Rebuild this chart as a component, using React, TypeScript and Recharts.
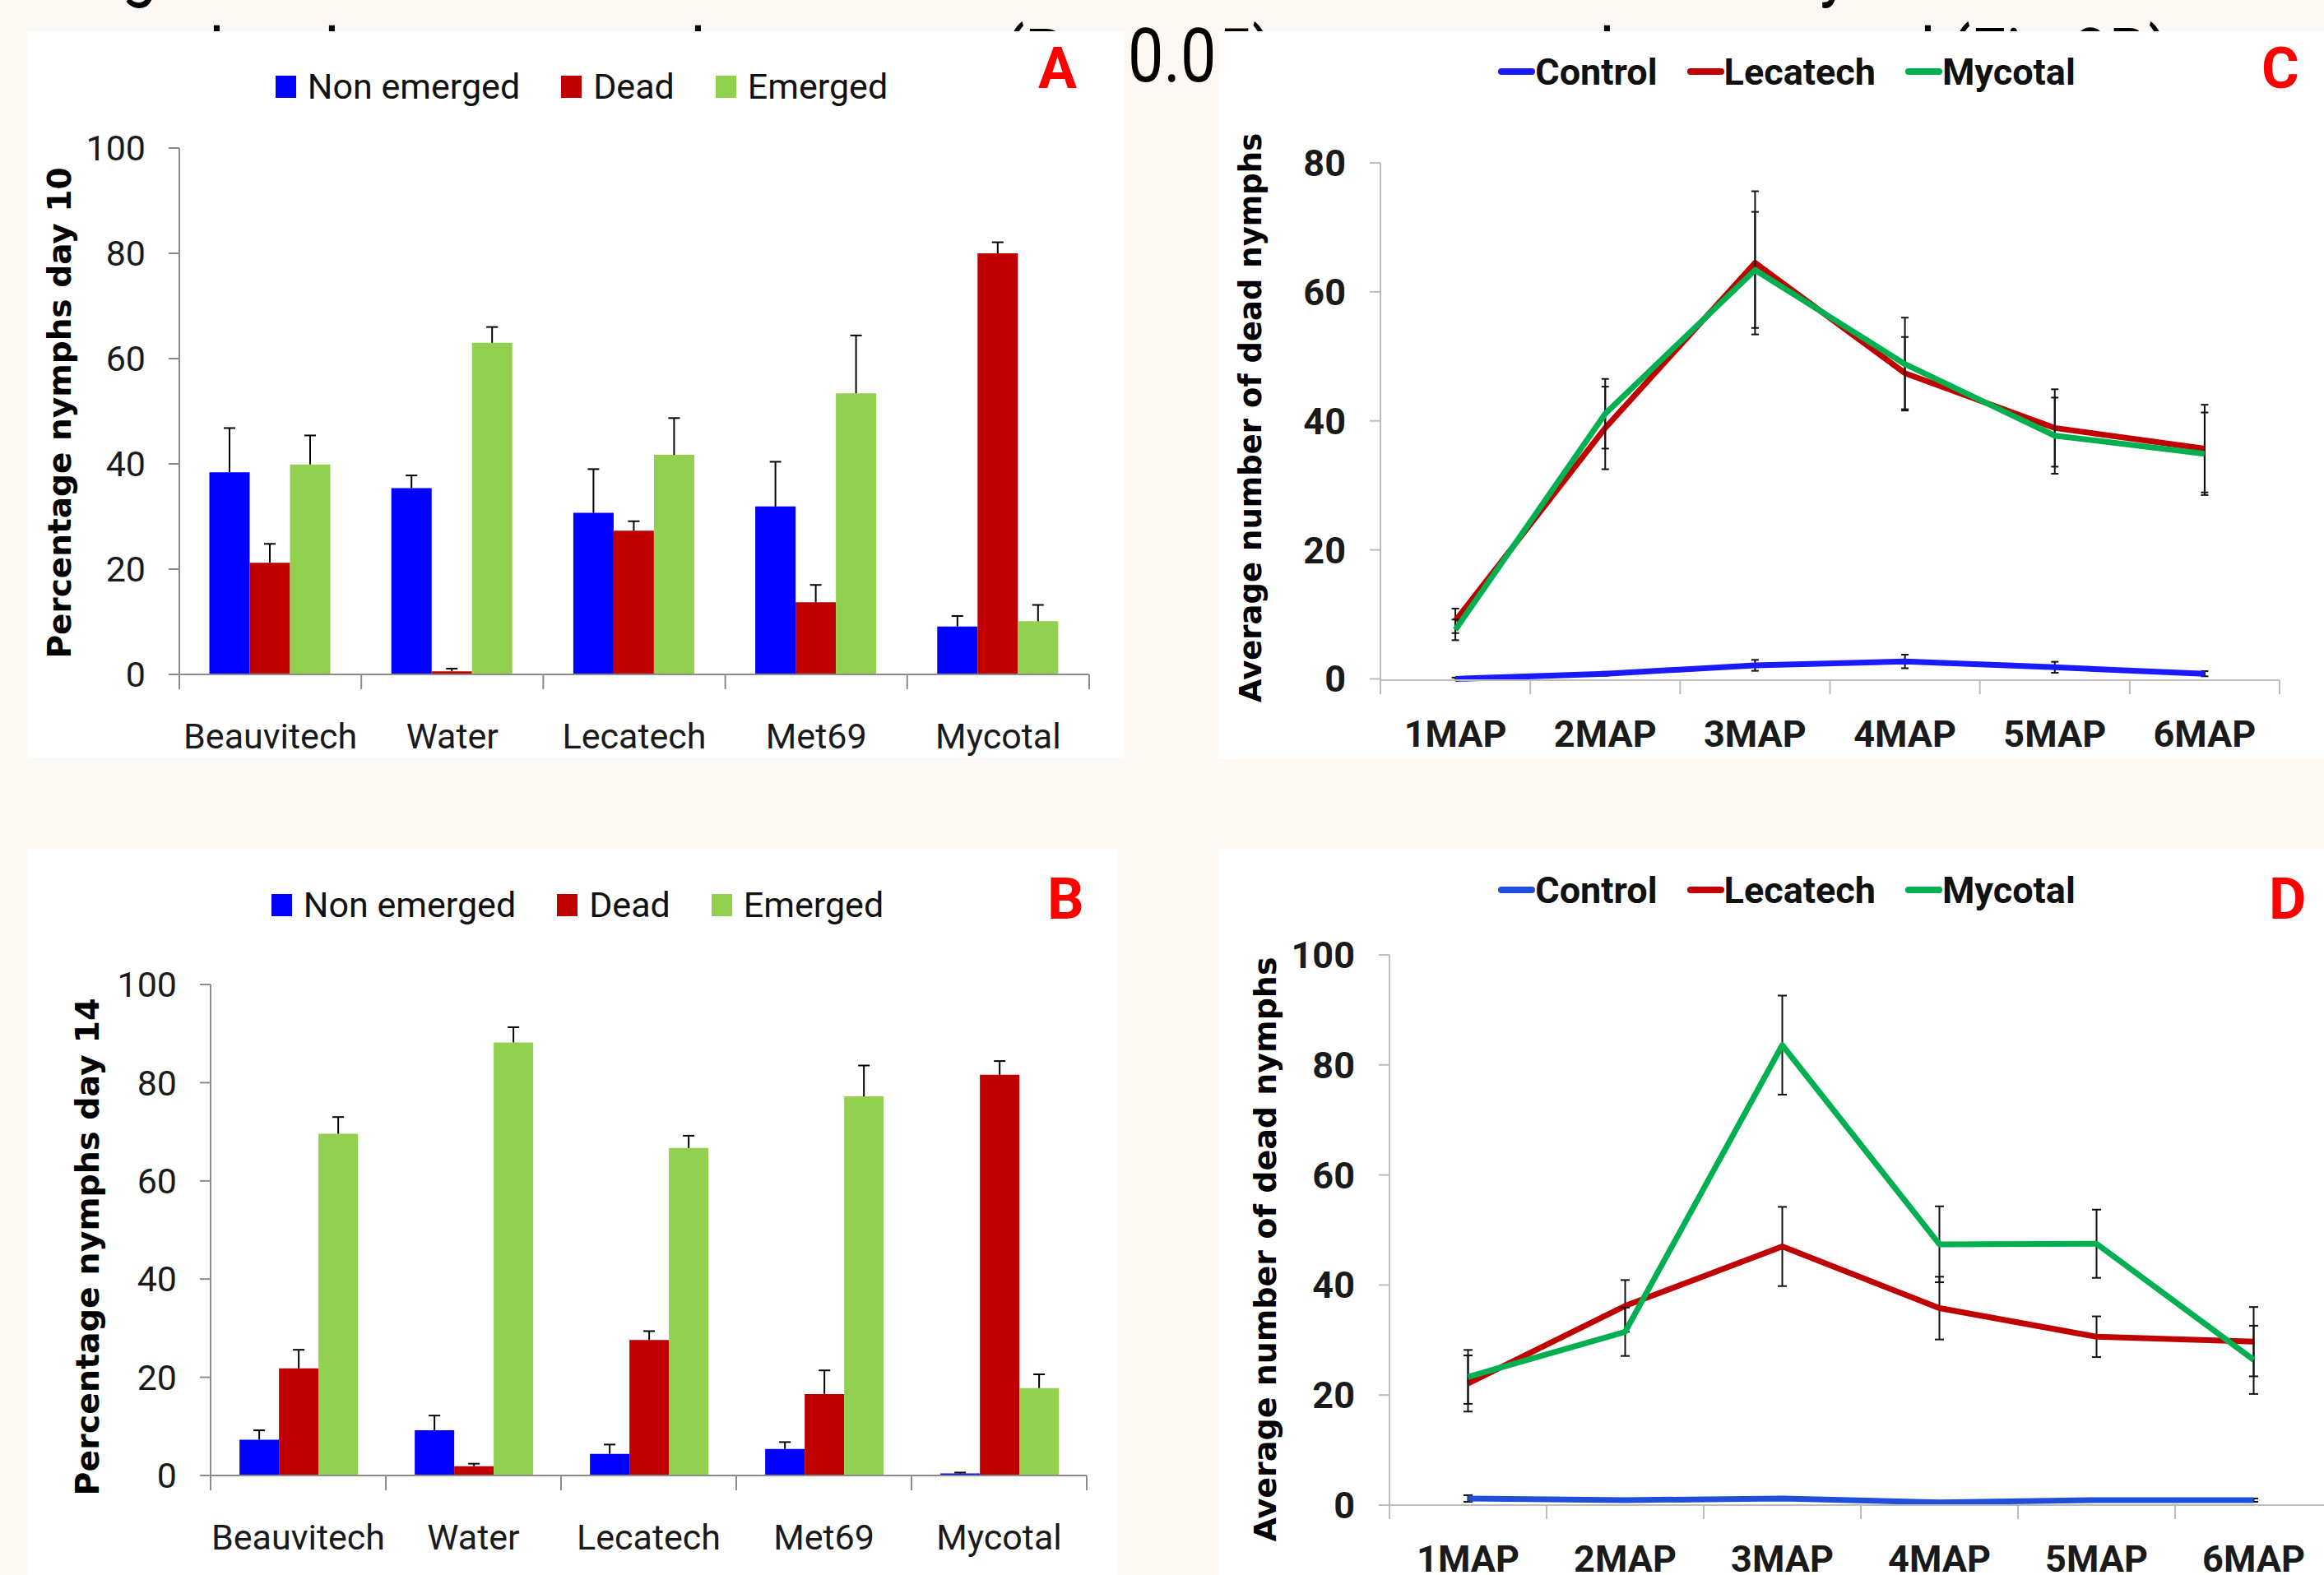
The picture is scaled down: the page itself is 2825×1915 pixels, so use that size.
import React from 'react';
import { BarChart, Bar, LineChart, Line, XAxis, YAxis, ErrorBar, Legend } from 'recharts';

// ---------- data ----------
const treatments = ['Beauvitech', 'Water', 'Lecatech', 'Met69', 'Mycotal'];

const day10NonEmerged = [38.4, 35.4, 30.7, 31.9, 9.1];
const day10NonEmergedErr = [8.4, 2.4, 8.3, 8.5, 2.0];
const day10Dead = [21.2, 0.6, 27.3, 13.7, 80.0];
const day10DeadErr = [3.6, 0.5, 1.8, 3.3, 2.1];
const day10Emerged = [39.9, 63.0, 41.7, 53.4, 10.1];
const day10EmergedErr = [5.5, 3.0, 7.0, 11.0, 3.1];

const day14NonEmerged = [7.3, 9.2, 4.4, 5.4, 0.4];
const day14NonEmergedErr = [1.9, 3.0, 1.9, 1.4, 0.2];
const day14Dead = [21.8, 1.9, 27.6, 16.6, 81.6];
const day14DeadErr = [3.8, 0.5, 1.8, 4.8, 2.8];
const day14Emerged = [69.6, 88.2, 66.7, 77.2, 17.8];
const day14EmergedErr = [3.4, 3.1, 2.5, 6.3, 2.8];

const months = ['1MAP', '2MAP', '3MAP', '4MAP', '5MAP', '6MAP'];

const cControl = [0.0, 0.8, 2.1, 2.7, 1.8, 0.8];
const cControlErr = [0.2, 0.3, 0.85, 1.05, 0.85, 0.4];
const cLecatech = [9.0, 38.9, 64.5, 47.4, 38.9, 35.7];
const cLecatechErr = [1.9, 6.4, 11.1, 5.6, 6.0, 6.8];
const cMycotal = [7.6, 41.1, 63.4, 48.8, 37.7, 34.9];
const cMycotalErr = [1.6, 5.4, 9.0, 7.2, 5.9, 6.4];

const dControl = [1.2, 0.9, 1.2, 0.5, 0.9, 0.9];
const dControlErr = [0.6, 0.3, 0.3, 0.2, 0.3, 0.3];
const dLecatech = [22.1, 36.2, 47.0, 35.8, 30.6, 29.7];
const dLecatechErr = [5.1, 4.7, 7.2, 5.7, 3.7, 6.3];
const dMycotal = [23.3, 31.5, 83.6, 47.4, 47.5, 26.4];
const dMycotalErr = [4.9, 4.4, 9.0, 6.9, 6.2, 6.2];

const barSeriesNames = ['Non emerged', 'Dead', 'Emerged'];
const lineSeriesNames = ['Control', 'Lecatech', 'Mycotal'];
const barTicks = [0, 20, 40, 60, 80, 100];
const cTicks = [0, 20, 40, 60, 80];
const dTicks = [0, 20, 40, 60, 80, 100];

// ---------- styles ----------
const SANS = "Roboto, 'Liberation Sans', sans-serif";
const WIDE = "'DejaVu Sans', Verdana, sans-serif";
const BLUE = '#0000ff';
const RED = '#c00000';
const LGREEN = '#92d050';
const LBLUE_C = '#1a1aff';
const LBLUE_D = '#1f4fd8';
const LRED = '#c00000';
const LGREEN2 = '#00b050';
const PAGE_BG = '#fdf8f4';

const barColors = [BLUE, RED, LGREEN];

const buildBarRows = (ne: number[], neE: number[], de: number[], deE: number[], em: number[], emE: number[]) =>
  treatments.map((name, i) => ({
    name,
    ne: ne[i],
    neErr: [0, neE[i]],
    dead: de[i],
    deadErr: [0, deE[i]],
    em: em[i],
    emErr: [0, emE[i]],
  }));

const buildLineRows = (c: number[], cE: number[], l: number[], lE: number[], m: number[], mE: number[]) =>
  months.map((name, i) => ({
    name,
    control: c[i],
    controlErr: cE[i],
    lecatech: l[i],
    lecatechErr: lE[i],
    mycotal: m[i],
    mycotalErr: mE[i],
  }));

const dataA = buildBarRows(day10NonEmerged, day10NonEmergedErr, day10Dead, day10DeadErr, day10Emerged, day10EmergedErr);
const dataB = buildBarRows(day14NonEmerged, day14NonEmergedErr, day14Dead, day14DeadErr, day14Emerged, day14EmergedErr);
const dataC = buildLineRows(cControl, cControlErr, cLecatech, cLecatechErr, cMycotal, cMycotalErr);
const dataD = buildLineRows(dControl, dControlErr, dLecatech, dLecatechErr, dMycotal, dMycotalErr);

// ---------- helpers ----------
const BandTick = (props: any) => {
  const { x, y, payload, index, half, count, fs, fw, base, tlen, lc } = props;
  return (
    <g>
      <line x1={x - half} x2={x - half} y1={y} y2={y + tlen} stroke={lc} strokeWidth={2} />
      {index === count - 1 ? (
        <line x1={x + half} x2={x + half} y1={y} y2={y + tlen} stroke={lc} strokeWidth={2} />
      ) : null}
      <text x={x} y={y + base} textAnchor="middle" fontSize={fs} fontWeight={fw} fontFamily={SANS} fill="#1a1a1a">
        {payload.value}
      </text>
    </g>
  );
};

const VLabel = (props: any) => {
  const { cx, cy, fs, text } = props;
  return (
    <text
      x={cx}
      y={cy}
      transform={`rotate(-90 ${cx} ${cy})`}
      textAnchor="middle"
      dominantBaseline="central"
      fontFamily={WIDE}
      fontWeight={700}
      fontSize={fs}
      fill="#000"
    >
      {text}
    </text>
  );
};

const SquareLegend = ({ fs }: { fs: number }) => (
  <div
    style={{
      display: 'flex',
      justifyContent: 'center',
      alignItems: 'center',
      height: 60,
      fontFamily: SANS,
      fontSize: fs,
      color: '#111',
      whiteSpace: 'nowrap',
    }}
  >
    {barSeriesNames.map((label, i) => (
      <div key={label} style={{ display: 'flex', alignItems: 'center', marginLeft: i ? 50 : 0 }}>
        <span style={{ display: 'inline-block', width: 25, height: 27, background: barColors[i], marginRight: 14 }} />
        <span>{label}</span>
      </div>
    ))}
  </div>
);

const LineLegend = ({ fs, colors }: { fs: number; colors: string[] }) => (
  <div
    style={{
      display: 'flex',
      justifyContent: 'center',
      alignItems: 'center',
      height: 60,
      fontFamily: SANS,
      fontSize: fs,
      fontWeight: 700,
      color: '#111',
      whiteSpace: 'nowrap',
    }}
  >
    {lineSeriesNames.map((label, i) => (
      <div key={label} style={{ display: 'flex', alignItems: 'center', marginLeft: i ? 36 : 0 }}>
        <span style={{ display: 'inline-block', width: 45, height: 8, borderRadius: 4, background: colors[i] }} />
        <span>{label}</span>
      </div>
    ))}
  </div>
);

const PanelLetter = ({ w, h, x, y, text }: { w: number; h: number; x: number; y: number; text: string }) => (
  <svg width={w} height={h} style={{ position: 'absolute', left: 0, top: 0, pointerEvents: 'none' }}>
    <text x={x} y={y} fontFamily={SANS} fontWeight={700} fontSize={70} fill="#ff0000">
      {text}
    </text>
  </svg>
);

// ---------- bar panel ----------
type BarPanelProps = {
  data: any[];
  left: number;
  top: number;
  w: number;
  h: number;
  plotLeft: number;
  plotRight: number;
  plotTop: number;
  xh: number;
  ylabel: string;
  ylx: number;
  yly: number;
  ylfs: number;
  legendCx: number;
  legendCy: number;
  letter: string;
  letterX: number;
  letterY: number;
};

const AXIS_AB = '#8c8c8c';

const BarPanel = (p: BarPanelProps) => {
  const plotW = p.w - p.plotLeft - p.plotRight;
  const half = plotW / treatments.length / 2;
  return (
    <div
      className="plus-only-errors"
      style={{ position: 'absolute', left: p.left, top: p.top, width: p.w, height: p.h, background: '#fff' }}
    >
      <BarChart
        width={p.w}
        height={p.h}
        data={p.data}
        margin={{ top: p.plotTop, right: p.plotRight, bottom: 0, left: 0 }}
        barCategoryGap="16.5%"
        barGap={0}
      >
        <XAxis
          dataKey="name"
          interval={0}
          height={p.xh}
          tickLine={false}
          tickSize={0}
          tickMargin={0}
          axisLine={{ stroke: AXIS_AB, strokeWidth: 2 }}
          tick={<BandTick half={half} count={treatments.length} fs={43} fw={400} base={90} tlen={18} lc={AXIS_AB} />}
        />
        <YAxis
          width={p.plotLeft}
          domain={[0, 100]}
          ticks={barTicks}
          interval={0}
          tickSize={13}
          tickMargin={28}
          axisLine={{ stroke: AXIS_AB, strokeWidth: 2 }}
          tickLine={{ stroke: AXIS_AB, strokeWidth: 2 }}
          tick={{ fontSize: 43, fontFamily: SANS, fill: '#1a1a1a' }}
          label={<VLabel cx={p.ylx} cy={p.yly} fs={p.ylfs} text={p.ylabel} />}
        />
        <Legend
          verticalAlign="middle"
          align="center"
          layout="horizontal"
          wrapperStyle={{ left: p.legendCx - 700, top: p.legendCy - 30, width: 1400, height: 60 }}
          content={() => <SquareLegend fs={43} />}
        />
        <Bar dataKey="ne" name={barSeriesNames[0]} fill={BLUE} isAnimationActive={false}>
          <ErrorBar dataKey="neErr" direction="y" width={7} stroke="#000" strokeWidth={2} />
        </Bar>
        <Bar dataKey="dead" name={barSeriesNames[1]} fill={RED} isAnimationActive={false}>
          <ErrorBar dataKey="deadErr" direction="y" width={7} stroke="#000" strokeWidth={2} />
        </Bar>
        <Bar dataKey="em" name={barSeriesNames[2]} fill={LGREEN} isAnimationActive={false}>
          <ErrorBar dataKey="emErr" direction="y" width={7} stroke="#000" strokeWidth={2} />
        </Bar>
      </BarChart>
      <PanelLetter w={p.w} h={p.h} x={p.letterX} y={p.letterY} text={p.letter} />
    </div>
  );
};

// ---------- line panel ----------
type LinePanelProps = {
  data: any[];
  left: number;
  top: number;
  w: number;
  h: number;
  plotLeft: number;
  plotRight: number;
  plotTop: number;
  xh: number;
  ymax: number;
  yticks: number[];
  ylx: number;
  yly: number;
  ylfs: number;
  legendCx: number;
  legendCy: number;
  letter: string;
  letterX: number;
  letterY: number;
  blue: string;
  capW: number;
};

const AXIS_CD = '#bdbdbd';

const LinePanel = (p: LinePanelProps) => {
  const plotW = p.w - p.plotLeft - p.plotRight;
  const half = plotW / months.length / 2;
  const colors = [p.blue, LRED, LGREEN2];
  const keys = ['control', 'lecatech', 'mycotal'];
  return (
    <div style={{ position: 'absolute', left: p.left, top: p.top, width: p.w, height: p.h, background: '#fff' }}>
      <LineChart width={p.w} height={p.h} data={p.data} margin={{ top: p.plotTop, right: p.plotRight, bottom: 0, left: 0 }}>
        <XAxis
          dataKey="name"
          interval={0}
          height={p.xh}
          padding={{ left: half, right: half }}
          tickLine={false}
          tickSize={0}
          tickMargin={0}
          axisLine={{ stroke: AXIS_CD, strokeWidth: 2 }}
          tick={<BandTick half={half} count={months.length} fs={45} fw={700} base={81} tlen={17} lc={AXIS_CD} />}
        />
        <YAxis
          width={p.plotLeft}
          domain={[0, p.ymax]}
          ticks={p.yticks}
          interval={0}
          tickSize={13}
          tickMargin={29}
          axisLine={{ stroke: AXIS_CD, strokeWidth: 2 }}
          tickLine={{ stroke: AXIS_CD, strokeWidth: 2 }}
          tick={{ fontSize: 45, fontFamily: SANS, fontWeight: 700, fill: '#1a1a1a' }}
          label={<VLabel cx={p.ylx} cy={p.yly} fs={p.ylfs} text="Average number of dead nymphs" />}
        />
        <Legend
          verticalAlign="middle"
          align="center"
          layout="horizontal"
          wrapperStyle={{ left: p.legendCx - 700, top: p.legendCy - 30, width: 1400, height: 60 }}
          content={() => <LineLegend fs={45} colors={colors} />}
        />
        {keys.map((k, i) => (
          <Line
            key={k}
            type="linear"
            dataKey={k}
            name={lineSeriesNames[i]}
            stroke={colors[i]}
            strokeWidth={7}
            strokeLinejoin="round"
            dot={false}
            activeDot={false}
            isAnimationActive={false}
          >
            <ErrorBar dataKey={`${k}Err`} direction="y" width={p.capW} stroke="#111" strokeWidth={2} />
          </Line>
        ))}
      </LineChart>
      <PanelLetter w={p.w} h={p.h} x={p.letterX} y={p.letterY} text={p.letter} />
    </div>
  );
};

// ---------- background caption fragments (mostly hidden behind panels) ----------
const CapText = ({ x, y, t }: { x: number; y: number; t: string }) => (
  <text transform={`translate(${x} ${y}) scale(0.86 1)`}>{t}</text>
);

const Caption = () => (
  <svg width={2825} height={1915} style={{ position: 'absolute', left: 0, top: 0 }}>
    <g fontFamily={SANS} fontSize={90} fill="#000">
      <CapText x={148} y={-9} t="g" />
      <CapText x={2212} y={-9} t="y" />
      <CapText x={254} y={99} t="l" />
      <CapText x={394} y={99} t="l" />
      <CapText x={839} y={99} t="l" />
      <CapText x={1219} y={99} t="(P" />
      <CapText x={1371} y={99} t="0.05)" />
      <CapText x={1944} y={99} t="l" />
      <CapText x={2334} y={99} t="l" />
      <CapText x={2369} y={99} t="(Fig 3B)" />
    </g>
  </svg>
);

export default function App() {
  return (
    <div
      style={{
        position: 'absolute',
        left: 0,
        top: 0,
        width: 2825,
        height: 1915,
        overflow: 'hidden',
        background: PAGE_BG,
      }}
    >
      <style>{`.plus-only-errors .recharts-errorBar > line:last-of-type { display: none; }`}</style>
      <Caption />
      <BarPanel
        data={dataA}
        left={34}
        top={38}
        w={1332}
        h={883}
        plotLeft={184}
        plotRight={42}
        plotTop={142}
        xh={101}
        ylabel="Percentage nymphs day 10"
        ylx={38}
        yly={464}
        ylfs={39}
        legendCx={673}
        legendCy={67}
        letter="A"
        letterX={1228}
        letterY={69}
      />
      <BarPanel
        data={dataB}
        left={33}
        top={1032}
        w={1326}
        h={883}
        plotLeft={223}
        plotRight={38}
        plotTop={165}
        xh={121}
        ylabel="Percentage nymphs day 14"
        ylx={73}
        yly={484}
        ylfs={39.5}
        legendCx={669}
        legendCy={68}
        letter="B"
        letterX={1240}
        letterY={85}
      />
      <LinePanel
        data={dataC}
        left={1481}
        top={38}
        w={1344}
        h={885}
        plotLeft={197}
        plotRight={54}
        plotTop={160}
        xh={96}
        ymax={80}
        yticks={cTicks}
        ylx={39}
        yly={470}
        ylfs={37}
        legendCx={691}
        legendCy={49}
        letter="C"
        letterX={1268}
        letterY={69}
        blue={LBLUE_C}
        capW={4.5}
      />
      <LinePanel
        data={dataD}
        left={1481}
        top={1032}
        w={1364}
        h={883}
        plotLeft={208}
        plotRight={10}
        plotTop={129}
        xh={85}
        ymax={100}
        yticks={dTicks}
        ylx={57}
        yly={487}
        ylfs={38}
        legendCx={691}
        legendCy={50}
        letter="D"
        letterX={1277}
        letterY={85}
        blue={LBLUE_D}
        capW={5.5}
      />
    </div>
  );
}
